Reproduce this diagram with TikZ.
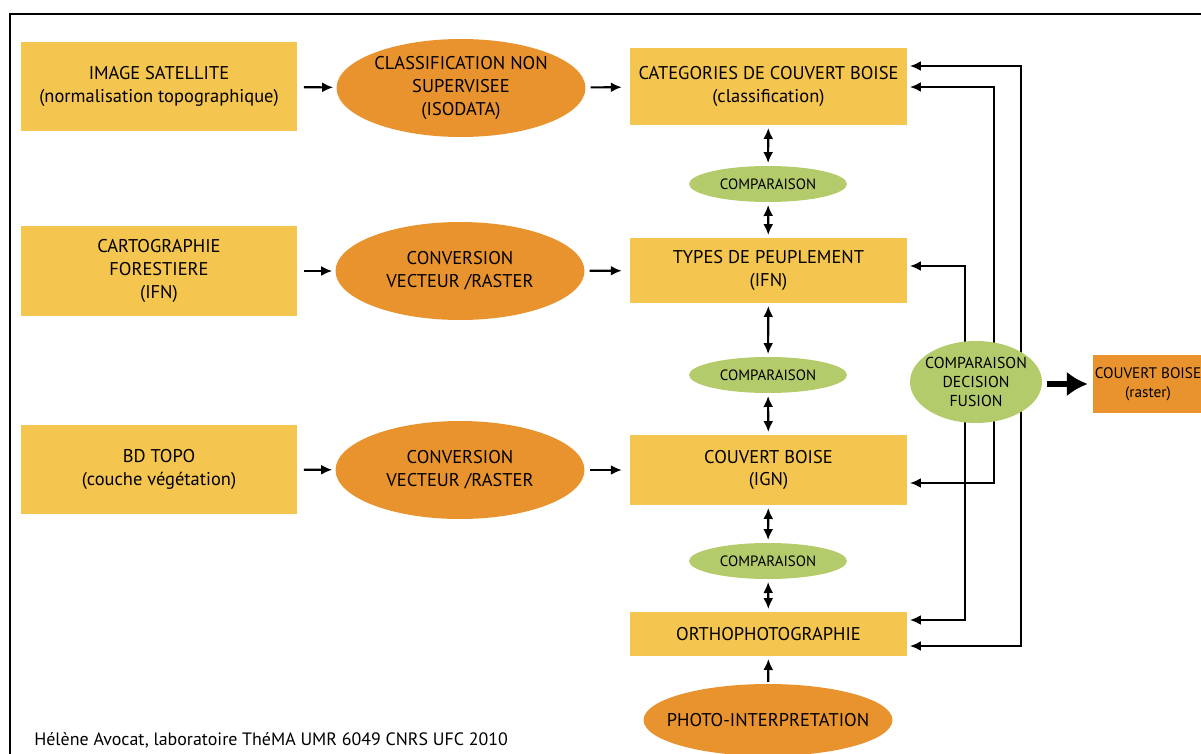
\documentclass[tikz,border=0pt]{standalone}
\usepackage{fontspec}
\setmainfont{PT Sans}
\usepackage{tikz}
\usetikzlibrary{arrows.meta,positioning,shapes.geometric}
\definecolor{yelc}{HTML}{F4C54F}
\definecolor{oranc}{HTML}{E9932F}
\definecolor{grnc}{HTML}{B4CB6B}
\tikzset{
  ar/.style={-{Latex[length=2.2mm,width=2mm]},line width=1.2pt,black},
  dar/.style={{Latex[length=2.2mm,width=2mm]}-{Latex[length=2.2mm,width=2mm]},line width=1.2pt,black},
  bigar/.style={-{Latex[length=4.2mm,width=5mm]},line width=3.4pt,black},
  box/.style={fill=yelc,align=center,inner sep=2pt,minimum width=5.54cm,font=\fontsize{10.5}{13}\selectfont},
  ov/.style={ellipse,fill=oranc,align=center,inner sep=0pt,minimum width=4.98cm,minimum height=1.96cm,font=\fontsize{10.5}{13}\selectfont},
  cmp/.style={ellipse,fill=grnc,align=center,inner sep=0pt,minimum width=3.16cm,minimum height=0.72cm,font=\fontsize{8.5}{10}\selectfont}
}
\begin{document}
\begin{tikzpicture}[x=0.02cm,y=-0.02cm]
\useasboundingbox (0,0) rectangle (1201,754);
\draw[line width=1.6pt] (10,770)--(10,14)--(1220,14);
% sources
\node[box,minimum height=1.78cm] (sat) at (159,86.5) {IMAGE SATELLITE\\(normalisation topographique)};
\node[box,minimum height=1.8cm] (ifn) at (159,271) {CARTOGRAPHIE\\FORESTIERE\\(IFN)};
\node[box,minimum height=1.78cm] (bdt) at (159,469.5) {BD TOPO\\(couche végétation)};
\node[ov] (cls) at (461,88) {CLASSIFICATION NON\\SUPERVISEE\\(ISODATA)};
\node[ov] (cv1) at (460,271) {CONVERSION\\VECTEUR /RASTER};
\node[ov] (cv2) at (460,470) {CONVERSION\\VECTEUR /RASTER};
% couches
\node[box,minimum height=1.54cm] (cat) at (768.5,86.5) {CATEGORIES DE COUVERT BOISE\\(classification)};
\node[box,minimum height=1.3cm] (typ) at (768.5,270.5) {TYPES DE PEUPLEMENT\\(IFN)};
\node[box,minimum height=1.4cm] (ign) at (768.5,470) {COUVERT BOISE\\(IGN)};
\node[box,minimum height=0.88cm] (orth) at (768.5,634) {ORTHOPHOTOGRAPHIE};
\node[cmp] (cp1) at (768,184) {COMPARAISON};
\node[cmp] (cp2) at (768,375) {COMPARAISON};
\node[cmp] (cp3) at (768,561) {COMPARAISON};
\node[ov,minimum width=4.98cm,minimum height=1.44cm,inner xsep=-7.5pt] (pi) at (768,720) {PHOTO-INTERPRETATION};
\foreach \a/\b in {sat/cls,ifn/cv1,bdt/cv2}{
  \draw[ar,shorten <=3.4pt,shorten >=1.7pt] (\a) -- (\b);}
\foreach \a/\b in {cls/cat,cv1/typ,cv2/ign}{
  \draw[ar,shorten <=2.8pt,shorten >=4.5pt] (\a) -- (\b);}
\foreach \a/\b in {cat/cp1,cp1/typ,typ/cp2,cp2/ign,ign/cp3,cp3/orth}{
  \draw[dar,shorten <=1.5pt,shorten >=1.5pt] (\a) -- (\b);}
\draw[ar,shorten <=1pt,shorten >=1.5pt] (pi) -- (orth);
% retours vers les couches
\coordinate (k1) at (1021,66);
\coordinate (k2) at (1021,646);
\coordinate (k3) at (994,87);
\coordinate (k4) at (994,483);
\coordinate (k5) at (965,266);
\coordinate (k6) at (965,620);
\draw[dar,shorten <=1.5pt,shorten >=1.5pt] (k1 -| cat.east) -- (k1) -- (k2) -- (k2 -| orth.east);
\draw[dar,shorten <=1.5pt,shorten >=1.5pt] (k3 -| cat.east) -- (k3) -- (k4) -- (k4 -| ign.east);
\draw[dar,shorten <=1.5pt,shorten >=1.5pt] (k5 -| typ.east) -- (k5) -- (k6) -- (k6 -| orth.east);
\node[cmp,minimum width=2.64cm,minimum height=1.64cm,inner xsep=-3pt,font=\fontsize{9}{10.8}\selectfont] (fu) at (976,382) {COMPARAISON\\DECISION\\FUSION};
\node[fill=oranc,align=center,minimum width=2.2cm,minimum height=1.16cm,inner sep=0pt,font=\fontsize{8.7}{11}\selectfont] (out) at (1148,384) {COUVERT BOISE\\(raster)};
\draw[bigar,shorten <=2.8pt,shorten >=2.8pt] (fu.east |- out) -- (out);
\node[anchor=base west,inner sep=0pt,font=\fontsize{10.2}{12}\selectfont] (auth) at (34,745) {Hélène Avocat, laboratoire ThéMA UMR 6049 CNRS UFC 2010};
\end{tikzpicture}
\end{document}
